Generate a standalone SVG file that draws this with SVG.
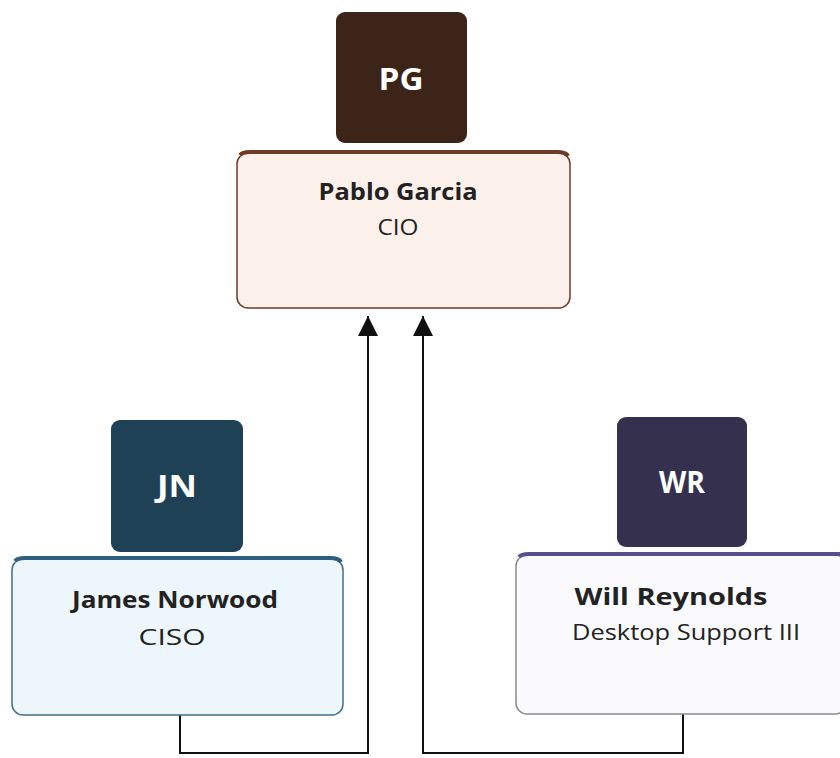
<svg xmlns="http://www.w3.org/2000/svg" width="840" height="758" viewBox="0 0 840 758">
<defs>
<style>
.ini{font-family:"Open Sans","Liberation Sans",sans-serif;font-weight:bold;font-size:30px;fill:#ffffff;text-anchor:middle}
.nm{font-family:"Open Sans","Liberation Sans",sans-serif;font-weight:bold;font-size:23px;fill:#222222;text-anchor:middle}
.tt{font-family:"Open Sans","Liberation Sans",sans-serif;font-size:21px;fill:#222222;text-anchor:middle}
.conn{fill:none;stroke:#111111;stroke-width:2}
</style>
<marker id="arrow" viewBox="0 0 20 20" refX="20" refY="10" markerWidth="20" markerHeight="20" markerUnits="userSpaceOnUse" orient="auto">
<path d="M0,0 L20,10 L0,20 z" fill="#111111"/>
</marker>
</defs>
<rect width="840" height="758" fill="#ffffff"/>
<g id="connectors">
<path class="conn" d="M180,715 V753 H368 V316" marker-end="url(#arrow)"/>
<path class="conn" d="M683,714 V753 H423 V316" marker-end="url(#arrow)"/>
</g>
<g id="pg">
<rect x="336" y="12" width="131" height="131" rx="9" fill="#3d2419"/>
<text class="ini" x="401" y="90" textLength="45" lengthAdjust="spacingAndGlyphs">PG</text>
</g>
<g id="pablo">
<rect x="237" y="153" width="333" height="155" rx="11" fill="#fcf0ea" stroke="#6e3b2a" stroke-width="1.5"/>
<path d="M240,155 Q242,152 250,152 H557 Q566,152 568,156" fill="none" stroke="#6e3b2a" stroke-width="4"/>
<text class="nm" x="398" y="200" textLength="159" lengthAdjust="spacingAndGlyphs">Pablo Garcia</text>
<text class="tt" x="398" y="235" textLength="41" lengthAdjust="spacingAndGlyphs">CIO</text>
</g>
<g id="jn">
<rect x="111" y="420" width="132" height="132" rx="9" fill="#1f4156"/>
<text class="ini" x="177" y="497" textLength="40" lengthAdjust="spacingAndGlyphs">JN</text>
</g>
<g id="james">
<rect x="12" y="559" width="331" height="156" rx="11" fill="#edf6fb" stroke="#3e6f8c" stroke-width="1.5"/>
<path d="M15,561 Q17,558 25,558 H330 Q339,558 341,562" fill="none" stroke="#2f5f7e" stroke-width="4"/>
<text class="nm" x="175" y="608" textLength="206" lengthAdjust="spacingAndGlyphs">James Norwood</text>
<text class="tt" x="172" y="645" textLength="67" lengthAdjust="spacingAndGlyphs">CISO</text>
</g>
<g id="wr">
<rect x="617" y="417" width="130" height="130" rx="9" fill="#36304f"/>
<text class="ini" x="682" y="493" textLength="46" lengthAdjust="spacingAndGlyphs">WR</text>
</g>
<g id="will">
<rect x="516" y="555" width="330" height="159" rx="11" fill="#fafafd" stroke="#8a8a95" stroke-width="1.5"/>
<path d="M519,557 Q521,554 529,554 H840" fill="none" stroke="#5a4f8e" stroke-width="4"/>
<text class="nm" x="671" y="605" textLength="193" lengthAdjust="spacingAndGlyphs">Will Reynolds</text>
<text class="tt" x="686" y="640" textLength="228" lengthAdjust="spacingAndGlyphs">Desktop Support III</text>
</g>
</svg>
